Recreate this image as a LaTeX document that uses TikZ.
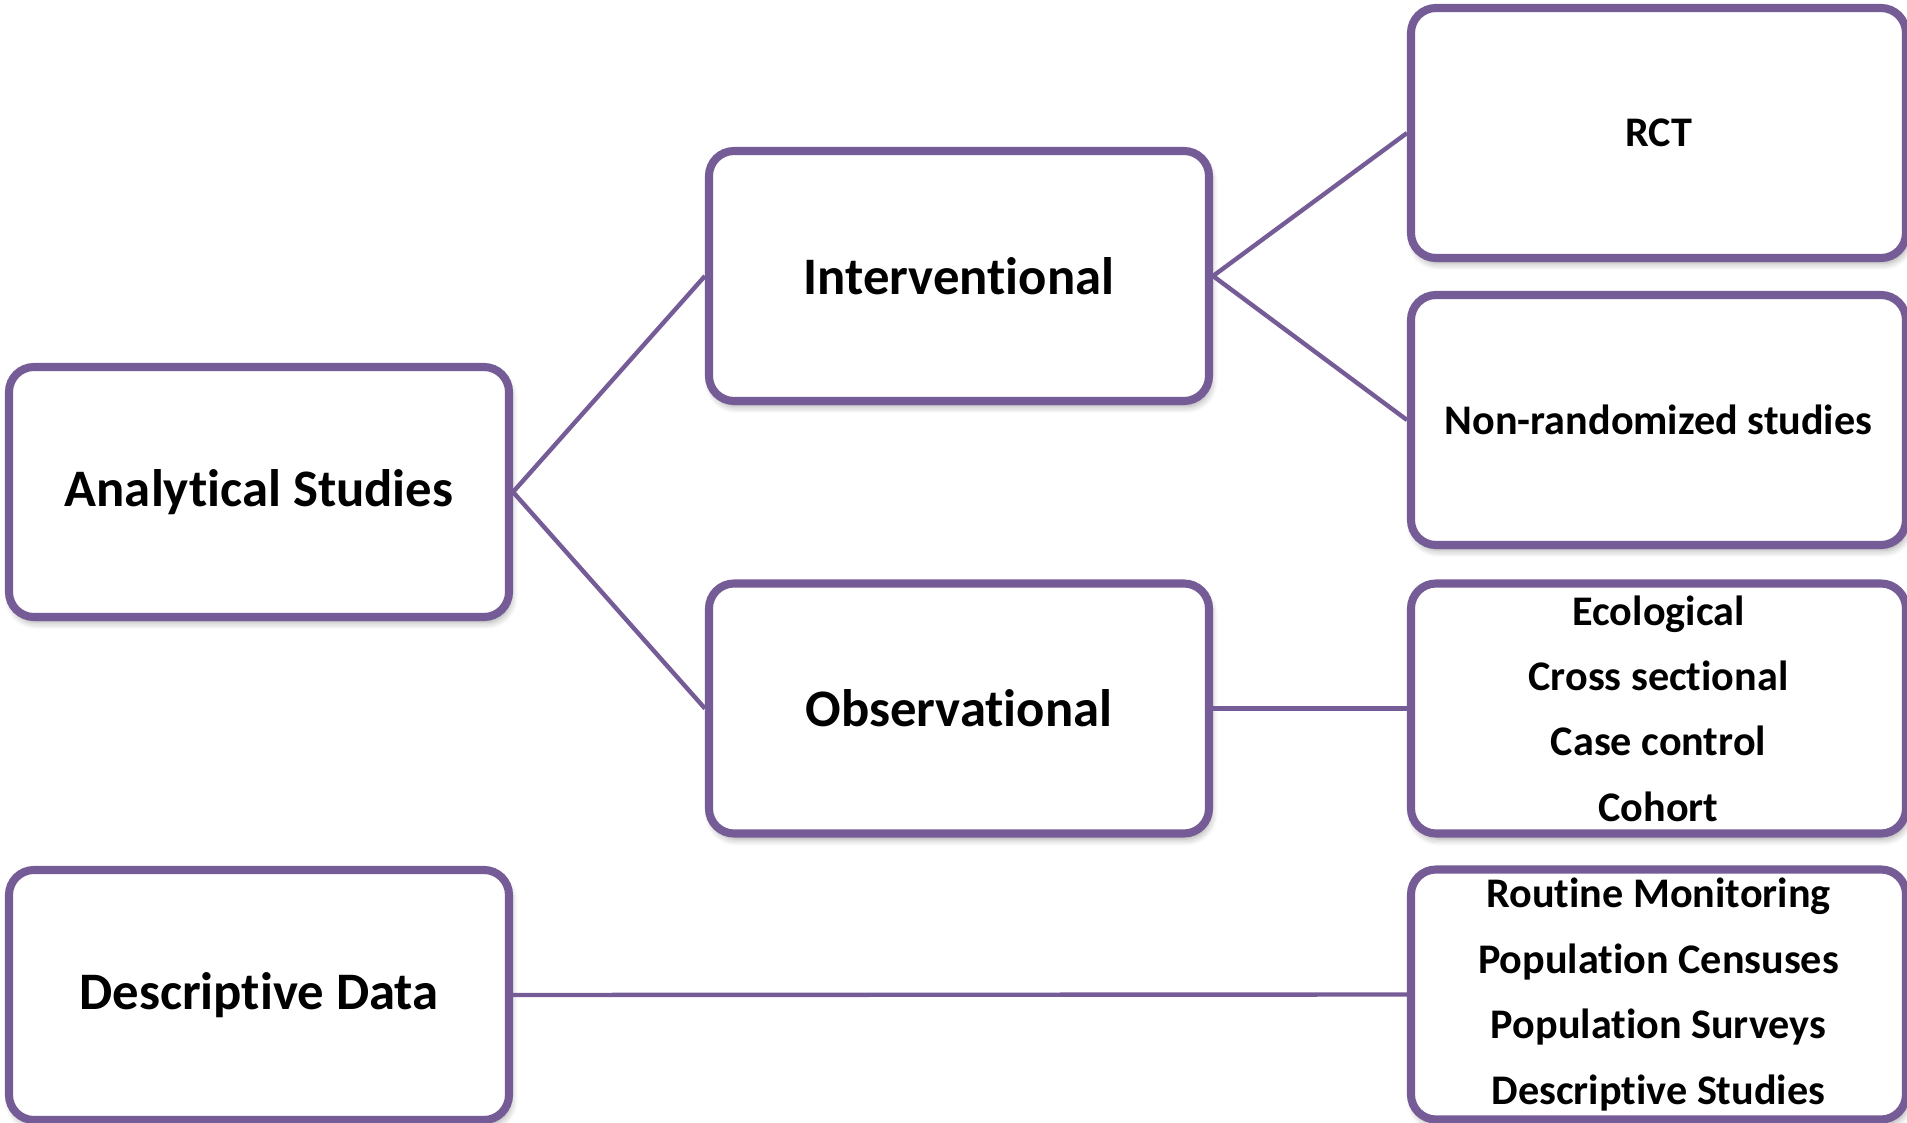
\documentclass[tikz,border=0pt]{standalone}
\usepackage{fontspec}
\setmainfont{Carlito}[Ligatures=NoCommon]
\usetikzlibrary{positioning,shadows.blur}

\definecolor{boxpurple}{RGB}{117,92,150}

\begin{document}
\begin{tikzpicture}[
	studybox/.style={shape=rectangle, draw=boxpurple, line width=2.3pt, fill=white, rounded corners=0.25cm,
		minimum width=5cm, minimum height=2.5cm, align=center, inner sep=0pt,
		blur shadow={shadow xshift=0.6pt, shadow yshift=-1.6pt, shadow blur steps=6, shadow opacity=35},
		font=\fontsize{15}{18}\selectfont\bfseries},
	listbox/.style={studybox, minimum width=4.95cm, font=\fontsize{12}{18.6}\selectfont\bfseries},
	link/.style={draw=boxpurple, line width=1.25pt}]
	\useasboundingbox (0,0) rectangle (19.07,11.22);

	% Left column
	\node [studybox] (ana) at (2.59,6.30) {Analytical Studies};
	\node [studybox] (desc) at (2.59,1.27) {Descriptive Data};

	% Middle column
	\node [studybox] (intv) at (9.59,8.46) {Interventional};
	\node [studybox] (obsv) at (9.59,4.135) {Observational};

	% Right column
	\node [listbox] (rct) at (16.585,9.89) {RCT};
	\node [listbox] (nonr) at (16.585,7.02) {Non-randomized studies};
	\node [listbox] (obsl) at (16.585,4.135) {Ecological\\Cross sectional\\Case control\\Cohort};
	\node [listbox] (desl) at (16.585,1.275) {Routine Monitoring\\Population Censuses\\Population Surveys\\Descriptive Studies};

	% Connectors
	\draw [link] (ana.east) -- (intv.west);
	\draw [link] (ana.east) -- (obsv.west);
	\draw [link] (intv.east) -- (rct.west);
	\draw [link] (intv.east) -- (nonr.west);
	\draw [link] (obsv.east) -- (obsl.west);
	\draw [link] (desc.east) -- (desl.west);
\end{tikzpicture}
\end{document}
